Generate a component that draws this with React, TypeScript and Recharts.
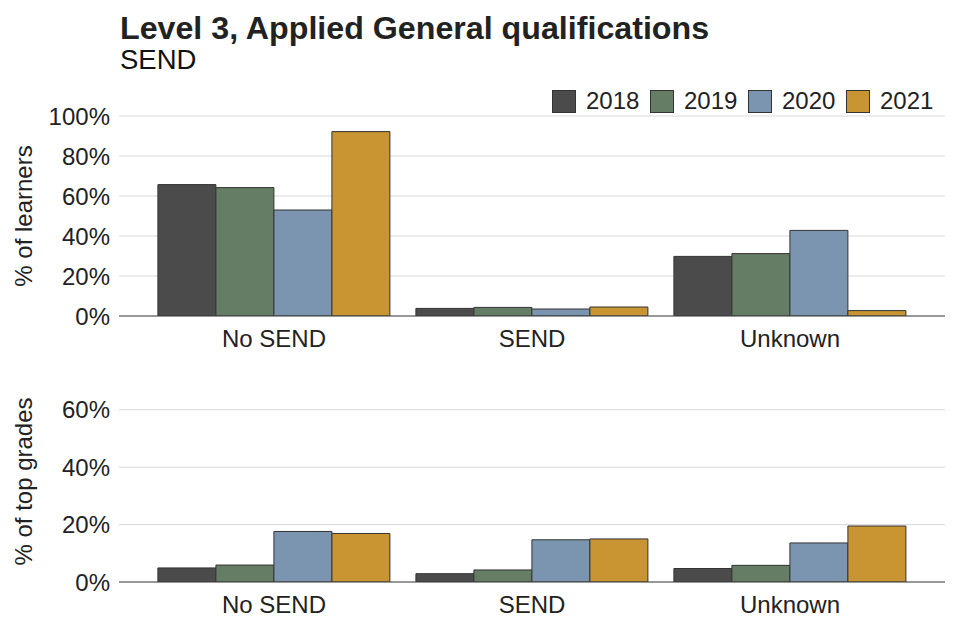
import { BarChart, Bar, XAxis, YAxis, CartesianGrid } from "recharts";

const categories = ["No SEND", "SEND", "Unknown"];
const years = ["2018", "2019", "2020", "2021"];
const yearColors = ["#4b4b4b", "#657d64", "#7b95b0", "#c89532"];

// % of learners, per year, in category order
const learners2018 = [65.7, 3.8, 29.8];
const learners2019 = [64.2, 4.3, 31.2];
const learners2020 = [53.0, 3.5, 42.8];
const learners2021 = [92.2, 4.5, 2.7];

// % of top grades
const top2018 = [4.9, 2.9, 4.7];
const top2019 = [5.9, 4.2, 5.8];
const top2020 = [17.6, 14.7, 13.6];
const top2021 = [16.9, 15.0, 19.5];

const learnerTicks = [0, 20, 40, 60, 80, 100];
const topTicks = [0, 20, 40, 60];

const FONT = "'Liberation Sans', Arial, sans-serif";
const TEXT = "#222";

const buildRows = (series: number[][]) =>
  categories.map((c, i) => {
    const row: Record<string, string | number> = { cat: c };
    years.forEach((y, j) => (row[y] = series[j][i]));
    return row;
  });

const learnerRows = buildRows([learners2018, learners2019, learners2020, learners2021]);
const topRows = buildRows([top2018, top2019, top2020, top2021]);

const pct = (v: number) => `${v}%`;

const axisTitle = (text: string) => (props: any) => {
  const vb = props.viewBox;
  const cy = vb.y + vb.height / 2;
  return (
    <text x={32} y={cy} transform={`rotate(-90, 32, ${cy})`} textAnchor="middle" fill={TEXT} fontSize={24} fontFamily={FONT}>
      {text}
    </text>
  );
};

function Panel({ rows, ticks, max, title, height, marginTop, marginBottom }: any) {
  return (
    <BarChart
      width={960}
      height={height}
      data={rows}
      margin={{ top: marginTop, right: 15, bottom: marginBottom, left: 0 }}
      barCategoryGap="5%"
      barGap={0}
    >
      <CartesianGrid vertical={false} horizontalValues={ticks} stroke="#d9d9d9" strokeWidth={1} />
      <XAxis
        dataKey="cat"
        height={40}
        padding={{ left: 26, right: 26 }}
        tickLine={false}
        tickSize={0}
        tickMargin={14}
        axisLine={{ stroke: "#444", strokeWidth: 1 }}
        tick={{ fill: TEXT, fontSize: 24, fontFamily: FONT }}
      />
      <YAxis
        width={119}
        domain={[0, max]}
        ticks={ticks}
        allowDataOverflow
        tickFormatter={pct}
        axisLine={false}
        tickLine={false}
        tickSize={0}
        tickMargin={9}
        tick={{ fill: TEXT, fontSize: 24, fontFamily: FONT }}
        label={axisTitle(title)}
      />
      {years.map((y, i) => (
        <Bar key={y} dataKey={y} fill={yearColors[i]} stroke="#333" strokeWidth={1} isAnimationActive={false} />
      ))}
    </BarChart>
  );
}

export default function App() {
  return (
    <div style={{ position: "absolute", left: 0, top: 0, width: 960, height: 640, background: "#fff", fontFamily: FONT }}>
      <div style={{ position: "absolute", left: 0, top: 0 }}>
        <Panel rows={learnerRows} ticks={learnerTicks} max={100} title="% of learners" height={360} marginTop={116} marginBottom={4} />
      </div>
      <div style={{ position: "absolute", left: 0, top: 360 }}>
        <Panel rows={topRows} ticks={topTicks} max={70} title="% of top grades" height={280} marginTop={21} marginBottom={18} />
      </div>
      <svg width={960} height={120} style={{ position: "absolute", left: 0, top: 0, pointerEvents: "none" }}>
        <text x={120} y={39} fontSize={32.2} fontWeight="bold" fill={TEXT} fontFamily={FONT}>
          Level 3, Applied General qualifications
        </text>
        <text x={120} y={69} fontSize={27.5} fill="#111" fontFamily={FONT}>
          SEND
        </text>
        {years.map((y, i) => (
          <g key={y}>
            <rect x={552.5 + i * 98} y={90.5} width={23} height={22} fill={yearColors[i]} stroke="#333" strokeWidth={1} />
            <text x={586 + i * 98} y={109} fontSize={24} fill={TEXT} fontFamily={FONT}>
              {y}
            </text>
          </g>
        ))}
      </svg>
    </div>
  );
}
